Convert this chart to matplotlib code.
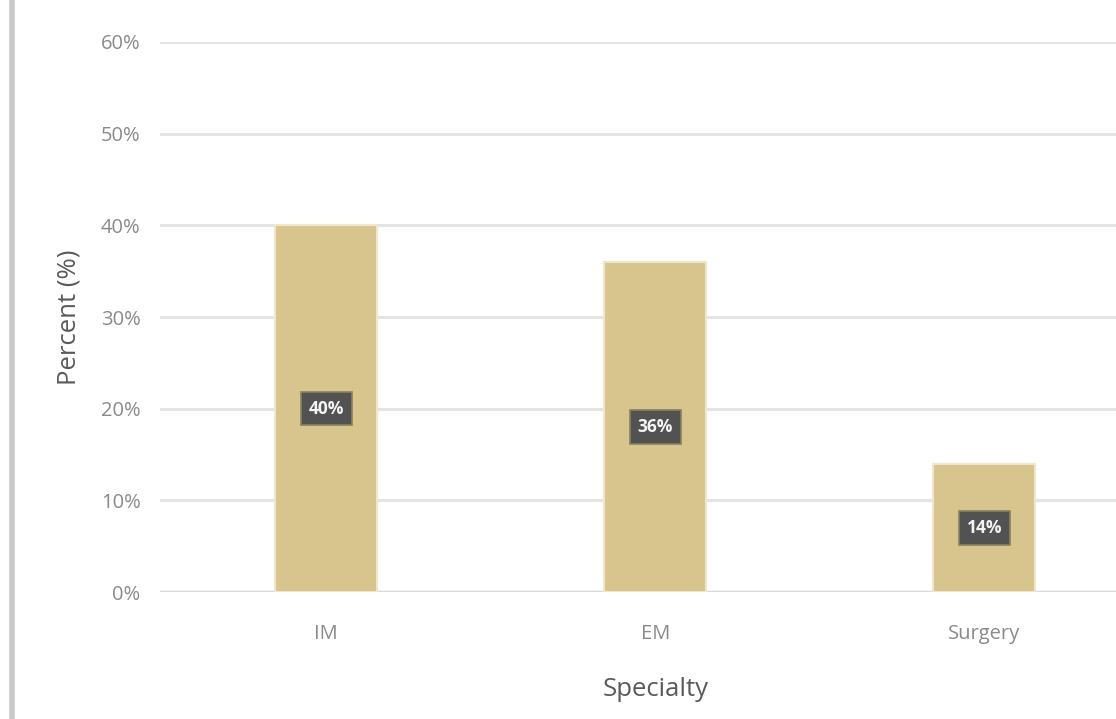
import matplotlib
matplotlib.use("Agg")
from matplotlib import pyplot as plt
from matplotlib.lines import Line2D
from matplotlib.ticker import FuncFormatter

# Share of respondents by specialty
specialties = ["IM", "EM", "Surgery"]
percents = [40, 36, 14]
yticks = [0, 10, 20, 30, 40, 50, 60]

bar_color = "#d8c48d"
text_gray = "#8a8a8a"
title_gray = "#5a5a5a"

plt.rcParams["font.family"] = ["Open Sans", "DejaVu Sans"]

fig = plt.figure(figsize=(11.16, 7.19), dpi=100)
ax = fig.add_axes([0.1434, 0.1766, 0.8566, 0.765])

x = list(range(len(specialties)))
bars = ax.bar(x, percents, width=0.31, color=bar_color,
              edgecolor="#efe6cc", linewidth=1.5, zorder=3)

for b, val in zip(bars, percents):
    ax.text(b.get_x() + b.get_width() / 2, val / 2, f"{val}%",
            ha="center", va="center", color="#f4f4f4", fontsize=12.5,
            fontweight="bold", zorder=4,
            bbox=dict(boxstyle="square,pad=0.45", fc="#525252",
                      ec="#8a8060", lw=1.2))

ax.set_xlim(-0.505, 2.40)
ax.set_ylim(0, 60)
ax.set_yticks(yticks)
ax.yaxis.set_major_formatter(FuncFormatter(lambda v, _: f"{v:.0f}%"))
ax.set_xticks(x)
ax.set_xticklabels(specialties)

ax.grid(axis="y", color="#e4e4e4", linewidth=2.2, zorder=0)
ax.set_axisbelow(True)
for s in ax.spines.values():
    s.set_visible(False)
ax.axhline(0, color="#dadada", linewidth=2.5, zorder=2)

ax.tick_params(axis="both", length=0, colors=text_gray, labelsize=14.5)
ax.tick_params(axis="y", pad=14)
ax.tick_params(axis="x", pad=23)

ax.set_ylabel("Percent (%)", fontsize=18.5, color=title_gray, labelpad=14)
# centred under the middle category rather than the axes
ax.set_xlabel("Specialty", fontsize=18.5, color=title_gray, labelpad=24,
              x=(1 + 0.505) / (2.40 + 0.505))

# thin gray frame edge on the left
fig.add_artist(Line2D([0.0112, 0.0112], [0, 1], transform=fig.transFigure,
                      color="#c8c8c8", linewidth=4))

fig.savefig("out.png", dpi=100)
